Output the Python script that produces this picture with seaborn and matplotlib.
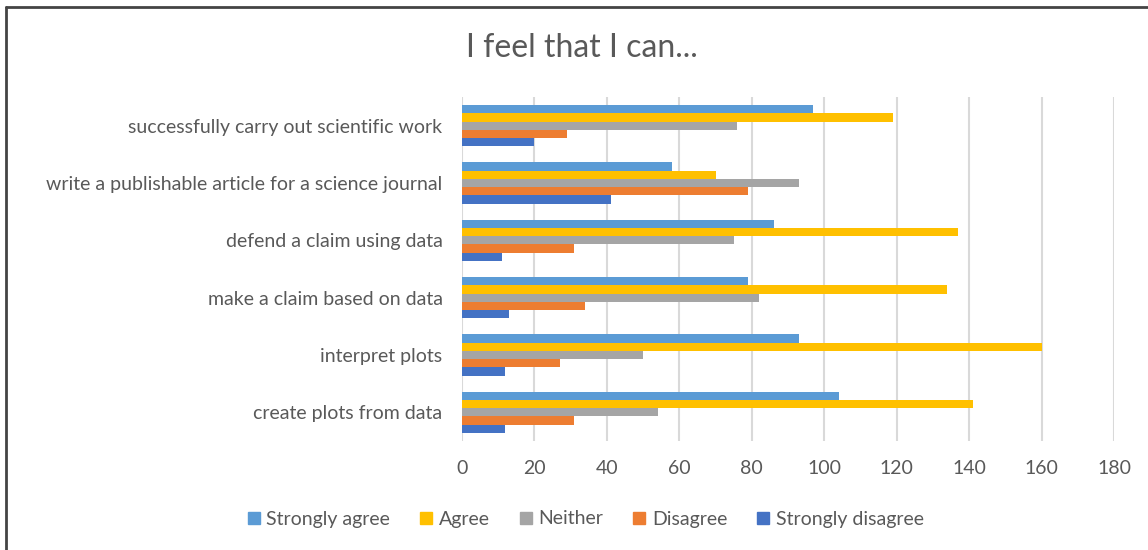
import pandas as pd
import numpy as np
import matplotlib.pyplot as plt
import seaborn as sns
from matplotlib.lines import Line2D

# Data
statements = [
    'successfully carry out scientific work',
    'write a publishable article for a science journal',
    'defend a claim using data',
    'make a claim based on data',
    'interpret plots',
    'create plots from data',
]
responses = ['Strongly agree', 'Agree', 'Neither', 'Disagree', 'Strongly disagree']

strongly_agree = [97, 58, 86, 79, 93, 104]
agree = [119, 70, 137, 134, 160, 141]
neither = [76, 93, 75, 82, 50, 54]
disagree = [29, 79, 31, 34, 27, 31]
strongly_disagree = [20, 41, 11, 13, 12, 12]

colors = ['#5B9BD5', '#FFC000', '#A5A5A5', '#ED7D31', '#4472C4']

# Long format for seaborn
df = pd.DataFrame({
    'statement': statements * 5,
    'response': np.repeat(responses, len(statements)),
    'count': strongly_agree + agree + neither + disagree + strongly_disagree,
})

sns.set_style('white')
plt.rcParams['font.family'] = ['Lato', 'DejaVu Sans']

fig = plt.figure(figsize=(11.48, 5.5), dpi=100)
ax = fig.add_axes([462 / 1148, 1 - 441 / 550, (1114 - 462) / 1148, (441 - 97) / 550])

sns.barplot(data=df, y='statement', x='count', hue='response',
            order=statements, hue_order=responses, palette=colors,
            orient='h', width=0.72, gap=0, saturation=1, linewidth=0,
            ax=ax, legend=False)

ax.set_xlim(0, 180)
ax.set_ylim(len(statements) - 0.5, -0.5)
ax.set_xticks(range(0, 181, 20))
ax.xaxis.grid(True, color='#D9D9D9', linewidth=1.5)
ax.set_axisbelow(True)
for s in ax.spines.values():
    s.set_visible(False)
ax.tick_params(axis='both', length=0, labelsize=14, colors='#595959')
ax.tick_params(axis='y', pad=14)
ax.tick_params(axis='x', pad=14)
ax.set_xlabel('')
ax.set_ylabel('')

fig.text(0.507, 1 - 48 / 550, 'I feel that I can...', ha='center', va='center',
         fontsize=23, color='#595959')

handles = [Line2D([0], [0], marker='s', linestyle='', markersize=9,
                  markerfacecolor=c, markeredgecolor=c) for c in colors]
fig.legend(handles, responses, loc='center', bbox_to_anchor=(0.51, 1 - 519 / 550),
           ncol=5, frameon=False, fontsize=14, handlelength=0.7,
           handletextpad=0.3, columnspacing=1.5, labelcolor='#595959')

# outer frame (top and left edges only, like the cropped screenshot)
fig.add_artist(Line2D([6 / 1148, 1], [1 - 6.5 / 550, 1 - 6.5 / 550],
                      transform=fig.transFigure, color='#444444', linewidth=2))
fig.add_artist(Line2D([6 / 1148, 6 / 1148], [0, 1 - 6.5 / 550],
                      transform=fig.transFigure, color='#444444', linewidth=2))

fig.savefig('out.png', dpi=100)
